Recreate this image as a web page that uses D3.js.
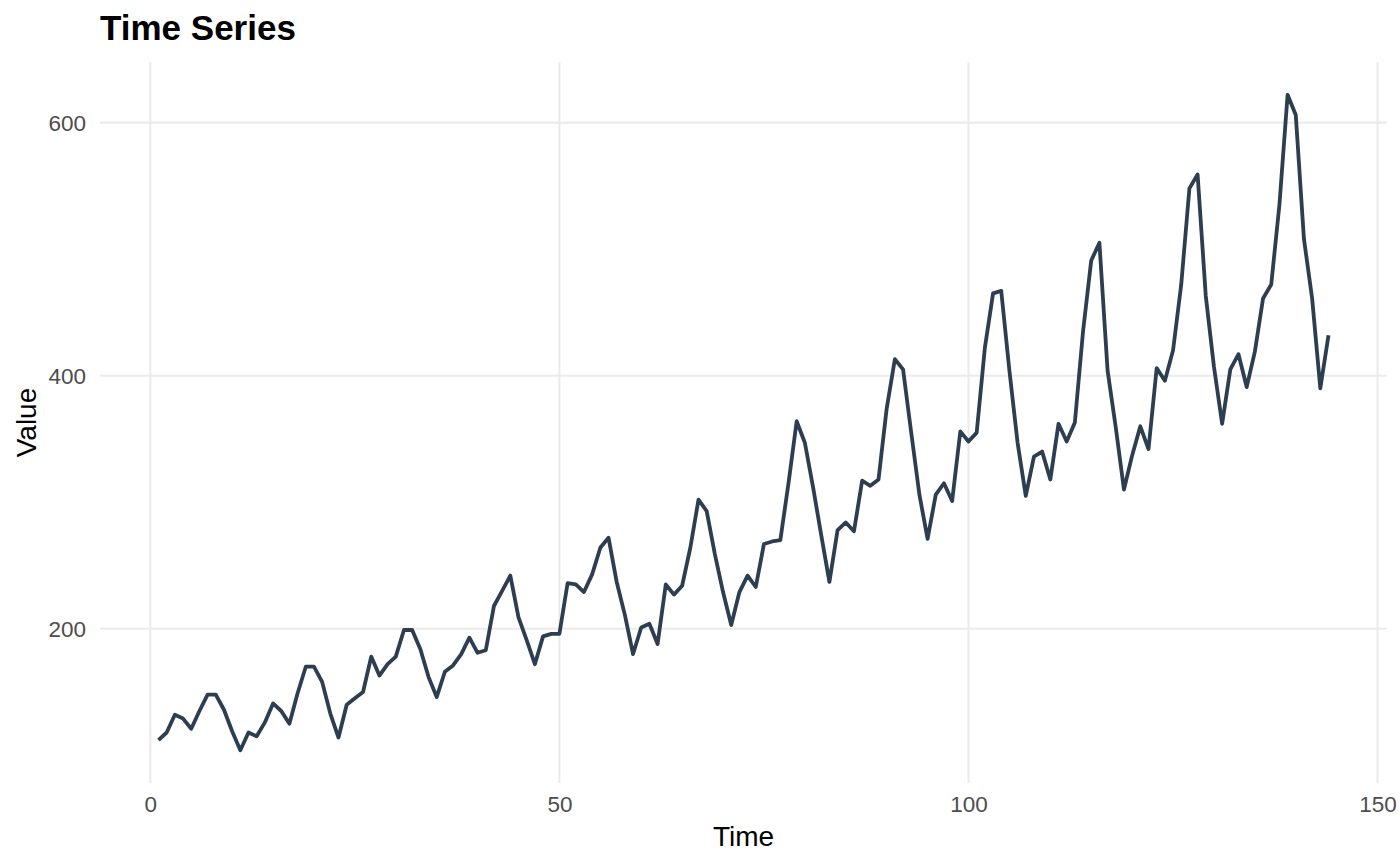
<!DOCTYPE html>
<html>
<head>
<meta charset="utf-8">
<script src="https://cdn.jsdelivr.net/npm/d3@7"></script>
<style>
  body { margin: 0; background: #fff; }
  svg { display: block; font-family: "Liberation Sans", Arial, sans-serif; }
</style>
</head>
<body>
<div id="chart"></div>
<script>
// monthly values, 144 points (t = 1..144)
var values = [
  112, 118, 132, 129, 121, 135, 148, 148, 136, 119, 104, 118,
  115, 126, 141, 135, 125, 149, 170, 170, 158, 133, 114, 140,
  145, 150, 178, 163, 172, 178, 199, 199, 184, 162, 146, 166,
  171, 180, 193, 181, 183, 218, 230, 242, 209, 191, 172, 194,
  196, 196, 236, 235, 229, 243, 264, 272, 237, 211, 180, 201,
  204, 188, 235, 227, 234, 264, 302, 293, 259, 229, 203, 229,
  242, 233, 267, 269, 270, 315, 364, 347, 312, 274, 237, 278,
  284, 277, 317, 313, 318, 374, 413, 405, 355, 306, 271, 306,
  315, 301, 356, 348, 355, 422, 465, 467, 404, 347, 305, 336,
  340, 318, 362, 348, 363, 435, 491, 505, 404, 359, 310, 337,
  360, 342, 406, 396, 420, 472, 548, 559, 463, 407, 362, 405,
  417, 391, 419, 461, 472, 535, 622, 606, 508, 461, 390, 432
];
var xTicks = [0, 50, 100, 150];
var yTicks = [200, 400, 600];

var width = 1400, height = 866;
var margin = { top: 62, right: 13, bottom: 83, left: 100 };

var data = values.map(function(v, i) { return { t: i + 1, v: v }; });

// ggplot style 5% expansion of the data range
var xr = d3.extent(data, function(d) { return d.t; });
var yr = d3.extent(data, function(d) { return d.v; });
var xpad = (xr[1] - xr[0]) * 0.05, ypad = (yr[1] - yr[0]) * 0.05;

var x = d3.scaleLinear()
  .domain([xr[0] - xpad, xr[1] + xpad])
  .range([margin.left, width - margin.right]);
var y = d3.scaleLinear()
  .domain([yr[0] - ypad, yr[1] + ypad])
  .range([height - margin.bottom, margin.top]);

var svg = d3.select("#chart").append("svg")
  .attr("width", width)
  .attr("height", height);

// grid
var grid = svg.append("g").attr("class", "grid");
grid.selectAll(".gx").data(xTicks).enter().append("line")
  .attr("x1", function(d) { return x(d); })
  .attr("x2", function(d) { return x(d); })
  .attr("y1", margin.top)
  .attr("y2", height - margin.bottom)
  .style("stroke", "#ebebeb")
  .style("stroke-width", 2.1);
grid.selectAll(".gy").data(yTicks).enter().append("line")
  .attr("x1", margin.left)
  .attr("x2", width - margin.right)
  .attr("y1", function(d) { return y(d); })
  .attr("y2", function(d) { return y(d); })
  .style("stroke", "#ebebeb")
  .style("stroke-width", 2.1);

// axes (labels only, theme_minimal look)
var xAxis = svg.append("g")
  .attr("transform", "translate(0," + (height - margin.bottom) + ")")
  .call(d3.axisBottom(x).tickValues(xTicks).tickSize(0).tickPadding(29));
var yAxis = svg.append("g")
  .attr("transform", "translate(" + margin.left + ",0)")
  .call(d3.axisLeft(y).tickValues(yTicks).tickSize(0).tickPadding(14));
[xAxis, yAxis].forEach(function(a) {
  a.select(".domain").remove();
  a.selectAll("text")
    .style("font-family", "Liberation Sans, Arial, sans-serif")
    .style("font-size", "22.5px")
    .style("fill", "#4d4d4d");
});
xAxis.selectAll("text").attr("dy", 0);
yAxis.selectAll("text").attr("dy", "0.35em");

// series line
var line = d3.line()
  .x(function(d) { return x(d.t); })
  .y(function(d) { return y(d.v); });

svg.append("path")
  .datum(data)
  .attr("d", line)
  .style("fill", "none")
  .style("stroke", "#2c3e50")
  .style("stroke-width", 3.8)
  .style("stroke-linejoin", "round")
  .style("stroke-linecap", "butt");

// titles
svg.append("text")
  .attr("x", margin.left)
  .attr("y", 40)
  .style("font-size", "35px")
  .style("font-weight", "bold")
  .style("fill", "#000")
  .text("Time Series");

svg.append("text")
  .attr("x", (margin.left + width - margin.right) / 2)
  .attr("y", 846)
  .attr("text-anchor", "middle")
  .style("font-size", "28px")
  .style("fill", "#000")
  .text("Time");

svg.append("text")
  .attr("transform", "translate(36," + ((margin.top + height - margin.bottom) / 2) + ") rotate(-90)")
  .attr("text-anchor", "middle")
  .style("font-size", "28px")
  .style("fill", "#000")
  .text("Value");
</script>
</body>
</html>
